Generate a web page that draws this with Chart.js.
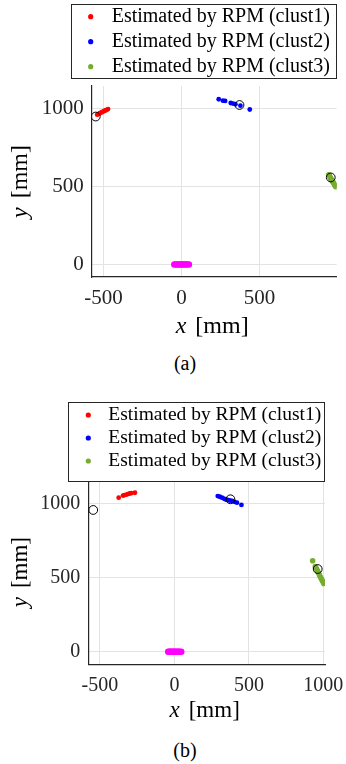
<!DOCTYPE html>
<html>
<head>
<meta charset="utf-8">
<script src="https://cdn.jsdelivr.net/npm/chart.js@4.4.1/dist/chart.umd.min.js"></script>
<style>
  html, body { margin: 0; padding: 0; background: #fff; }
  body { width: 346px; height: 764px; position: relative; overflow: hidden; font-family: 'Liberation Serif', 'Times New Roman', serif; }
  .panel { position: absolute; left: 0; width: 346px; height: 340px; }
  .caption { position: absolute; left: 0; width: 370px; text-align: center; font-size: 20px; line-height: 22px; color: #000; }
</style>
</head>
<body>
<div class="panel" style="top:0"><canvas id="chartA" width="346" height="340"></canvas></div>
<div class="caption" style="top:352px">(a)</div>
<div class="panel" style="top:385px"><canvas id="chartB" width="346" height="340"></canvas></div>
<div class="caption" style="top:739px">(b)</div>
<script>
// legend labels
const seriesLabels = ['Estimated by RPM (clust1)', 'Estimated by RPM (clust2)', 'Estimated by RPM (clust3)'];
const xTicksA = [-500, 0, 500];
const xTicksB = [-500, 0, 500, 1000];
const yTicks = [0, 500, 1000];

// panel (a)
const clust1A_x = [-540, -532, -524, -517, -510, -502, -494, -487, -479, -470];
const clust1A_y = [961, 965, 970, 973, 977, 981, 985, 988, 992, 997];
const clust2A_x = [239, 266, 280, 316, 331, 346, 378, 438];
const clust2A_y = [1060, 1051, 1049, 1036, 1032, 1028, 1019, 994];
const clust3A_x = [944, 949, 954, 958, 963, 968, 973, 978, 983, 989];
const clust3A_y = [575, 567, 558, 550, 542, 534, 525, 517, 508, 498];
const originA_x = [-46, -38, -30, -22, -15, -7, 0, 8, 15, 23, 30, 38, 48];
const originA_y = [0, 0, 0, 0, 0, 0, 0, 0, 0, 0, 0, 0, 0];
const truthA_x = [-549, 372, 957];
const truthA_y = [949, 1023, 558];

// panel (b)
const clust1B_x = [-374, -345, -336, -322, -312, -300, -290, -265];
const clust1B_y = [1038, 1052, 1055, 1059, 1062, 1066, 1068, 1071];
const clust2B_x = [291, 305, 320, 332, 342, 352, 360, 372, 387, 403, 420, 450];
const clust2B_y = [1049, 1044, 1038, 1032, 1027, 1024, 1022, 1019, 1016, 1010, 1004, 989];
const clust3B_x = [928, 946, 953, 960, 967, 974, 981, 988, 995, 1003];
const clust3B_y = [613, 573, 560, 546, 532, 517, 502, 488, 474, 460];
const originB_x = [-42, -35, -28, -21, -14, -7, 0, 7, 14, 21, 28, 35, 46];
const originB_y = [0, 0, 0, 0, 0, 0, 0, 0, 0, 0, 0, 0, 0];
const truthB_x = [-545, 376, 962];
const truthB_y = [955, 1027, 557];

const colors = ['#ff0000', '#0000ff', '#77ac30'];
const axisColor = '#262626';
const serif = 'Liberation Serif';

const pts = (xs, ys) => xs.map((x, i) => ({ x: x, y: ys[i] }));

// draws the boxed legend and the x/y axis titles
const decorPlugin = {
    id: 'decor',
    afterDraw(chart, args, opts) {
        const ctx = chart.ctx;
        const area = chart.chartArea;
        ctx.save();

        const L = opts.legend;
        ctx.fillStyle = '#fff';
        ctx.fillRect(L.x, L.y, L.w, L.h);
        ctx.strokeStyle = axisColor;
        ctx.lineWidth = 1;
        ctx.strokeRect(L.x + 0.5, L.y + 0.5, L.w, L.h);
        ctx.font = L.size + 'px "' + serif + '"';
        ctx.textBaseline = 'middle';
        ctx.textAlign = 'left';
        chart.data.datasets.filter(d => d.inLegend).forEach((d, i) => {
            const y = L.y + L.firstRow + i * L.rowGap;
            ctx.fillStyle = d.backgroundColor;
            ctx.beginPath();
            ctx.arc(L.x + L.markerX, y, 2.6, 0, Math.PI * 2);
            ctx.fill();
            ctx.fillStyle = '#000';
            ctx.fillText(d.label, L.x + L.textX, y);
        });

        const T = opts.titles;
        const drawTitle = (v, cx, cy, rot) => {
            ctx.save();
            ctx.translate(cx, cy);
            ctx.rotate(rot);
            const fItal = 'italic ' + T.size + 'px "' + serif + '"';
            const fReg = T.size + 'px "' + serif + '"';
            ctx.font = fItal;
            const w1 = ctx.measureText(v).width;
            ctx.font = fReg;
            const w2 = ctx.measureText('[mm]').width;
            const total = w1 + T.gap + w2;
            ctx.fillStyle = '#000';
            ctx.textBaseline = 'middle';
            ctx.font = fItal;
            ctx.fillText(v, -total / 2, 0);
            ctx.font = fReg;
            ctx.fillText('[mm]', -total / 2 + w1 + T.gap, 0);
            ctx.restore();
        };
        drawTitle('x', (area.left + area.right) / 2 + T.xShift, area.bottom + T.xDy, 0);
        drawTitle('y', T.yX, (area.top + area.bottom) / 2, -Math.PI / 2);
        ctx.restore();
    }
};

function makeChart(id, d, cfg) {
    const datasets = [
        { label: 'truth', data: pts(d.truthX, d.truthY), pointStyle: 'circle', pointRadius: 4.4, backgroundColor: 'rgba(0,0,0,0)', borderColor: '#000', pointBorderWidth: 1 },
        { label: seriesLabels[0], inLegend: true, data: pts(d.c1x, d.c1y), backgroundColor: colors[0], borderColor: colors[0], pointRadius: 2.4, pointBorderWidth: 0 },
        { label: seriesLabels[1], inLegend: true, data: pts(d.c2x, d.c2y), backgroundColor: colors[1], borderColor: colors[1], pointRadius: 2.4, pointBorderWidth: 0 },
        { label: seriesLabels[2], inLegend: true, data: pts(d.c3x, d.c3y), backgroundColor: colors[2], borderColor: colors[2], pointRadius: 2.8, pointBorderWidth: 0 },
        { label: 'origin', data: pts(d.ox, d.oy), backgroundColor: '#ff00ff', borderColor: '#ff00ff', pointRadius: 3.2, pointBorderWidth: 0 }
    ];
    const gridOpts = { color: '#e3e3e3', lineWidth: 1, drawTicks: false };
    const borderOpts = { display: true, color: axisColor, width: 1.2 };
    const tickFont = { family: serif, size: cfg.tickSize };

    return new Chart(document.getElementById(id), {
        type: 'scatter',
        data: { datasets },
        options: {
            responsive: false, animation: false,
            layout: { padding: cfg.padding },
            plugins: {
                legend: { display: false }, tooltip: { enabled: false },
                decor: { legend: cfg.legend, titles: cfg.titles }
            },
            scales: {
                x: {
                    type: 'linear', min: cfg.xMin, max: cfg.xMax,
                    afterBuildTicks: s => { s.ticks = cfg.xTicks.map(v => ({ value: v })); },
                    afterFit: s => { s.height = cfg.xAxisH; s.paddingLeft = 0; s.paddingRight = 0; },
                    grid: gridOpts, border: borderOpts,
                    ticks: { font: tickFont, color: axisColor, padding: 9, maxRotation: 0, callback: v => String(v) }
                },
                y: {
                    type: 'linear', min: cfg.yMin, max: cfg.yMax,
                    afterBuildTicks: s => { s.ticks = yTicks.map(v => ({ value: v })); },
                    afterFit: s => { s.width = cfg.yAxisW; s.paddingTop = 0; s.paddingBottom = 0; },
                    grid: gridOpts, border: borderOpts,
                    ticks: { font: tickFont, color: axisColor, padding: 8, callback: v => String(v) }
                }
            }
        },
        plugins: [decorPlugin]
    });
}

makeChart('chartA', {
    c1x: clust1A_x, c1y: clust1A_y, c2x: clust2A_x, c2y: clust2A_y, c3x: clust3A_x, c3y: clust3A_y,
    ox: originA_x, oy: originA_y, truthX: truthA_x, truthY: truthA_y
}, {
    xMin: -575, xMax: 995, yMin: -81, yMax: 1145, xTicks: xTicksA,
    padding: { left: 0, top: 86, right: 9.3, bottom: 3 }, xAxisH: 60, yAxisW: 91.7, tickSize: 21,
    legend: { x: 71, y: 4, w: 265, h: 74, markerX: 19.7, textX: 40.7, firstRow: 12.7, rowGap: 25, size: 20 },
    titles: { size: 24, gap: 9, xDy: 50, xShift: -2, yX: 21 }
});

makeChart('chartB', {
    c1x: clust1B_x, c1y: clust1B_y, c2x: clust2B_x, c2y: clust2B_y, c3x: clust3B_x, c3y: clust3B_y,
    ox: originB_x, oy: originB_y, truthX: truthB_x, truthY: truthB_y
}, {
    xMin: -578, xMax: 1011, yMin: -85, yMax: 1157, xTicks: xTicksB,
    padding: { left: 0, top: 95, right: 21, bottom: 0.7 }, xAxisH: 60, yAxisW: 88.3, tickSize: 20,
    legend: { x: 68, y: 17, w: 256, h: 79, markerX: 20.3, textX: 40.3, firstRow: 13, rowGap: 23, size: 19.5 },
    titles: { size: 23, gap: 9, xDy: 47, xShift: -2, yX: 21 }
});
</script>
</body>
</html>
